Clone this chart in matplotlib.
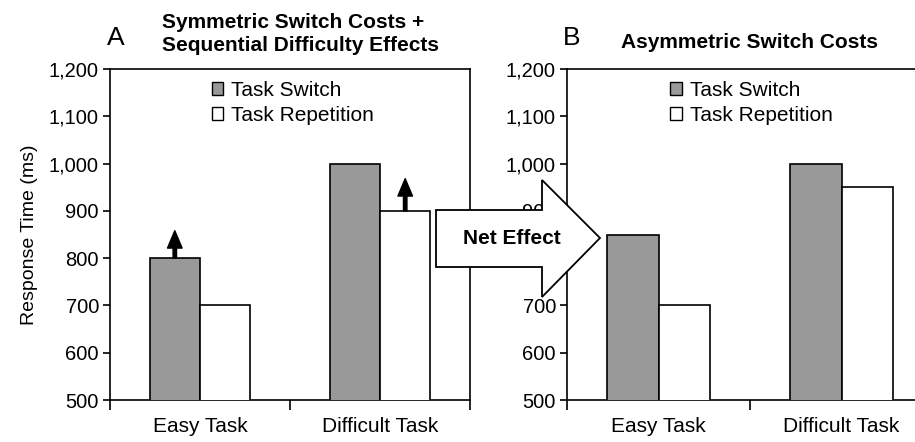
import numpy as np
import matplotlib.pyplot as plt
from matplotlib.patches import Patch, Polygon

plt.rcParams['font.family'] = ['Liberation Sans', 'DejaVu Sans']

# data
categories = ['Easy Task', 'Difficult Task']
switch_a = [800, 1000]
repeat_a = [700, 900]
switch_b = [850, 1000]
repeat_b = [700, 950]
# small arrows in panel A: (category index, series, base, tip)
arrows_a = [(0, 'switch', 800, 858), (1, 'repeat', 900, 968)]
yticks = [500, 600, 700, 800, 900, 1000, 1100, 1200]
ytick_labels = ['500', '600', '700', '800', '900', '1,000', '1,100', '1,200']

W, H = 915, 442
fig = plt.figure(figsize=(W / 100, H / 100), dpi=100)

bar_w = 0.28
gray = '#999999'


def setup(ax, sw, rp):
    x = np.arange(len(categories))
    ax.bar(x - bar_w / 2, sw, bar_w, color=gray, edgecolor='black', linewidth=1.2, zorder=3)
    ax.bar(x + bar_w / 2, rp, bar_w, color='white', edgecolor='black', linewidth=1.2, zorder=3)
    ax.set_ylim(500, 1200)
    ax.set_xlim(-0.5, len(categories) - 0.5)
    ax.set_yticks(yticks)
    ax.set_yticklabels(ytick_labels, fontsize=14.5)
    ax.tick_params(axis='y', direction='out', length=5, width=1.2, pad=3)
    ax.set_xticks(np.arange(len(categories) + 1) - 0.5)
    ax.set_xticklabels([])
    ax.tick_params(axis='x', which='major', direction='out', length=7, width=1.2)
    ax.set_xticks(x, minor=True)
    ax.set_xticklabels(categories, minor=True, fontsize=15)
    ax.tick_params(axis='x', which='minor', length=0, pad=12)
    for s in ax.spines.values():
        s.set_linewidth(1.2)
    handles = [Patch(facecolor=gray, edgecolor='black', label='Task Switch'),
               Patch(facecolor='white', edgecolor='black', label='Task Repetition')]
    ax.legend(handles=handles, loc='upper left', bbox_to_anchor=(0.236, 1.015),
              frameon=False, fontsize=15, handlelength=0.55, handleheight=0.55,
              handletextpad=0.4, labelspacing=0.3, borderpad=0.3)
    return x


axA = fig.add_axes([110 / W, 1 - 400 / H, 360 / W, 331 / H])
xA = setup(axA, switch_a, repeat_a)
axA.set_ylabel('Response Time (ms)', fontsize=14, labelpad=8)
for i, series, base, tip in arrows_a:
    xpos = xA[i] - bar_w / 2 if series == 'switch' else xA[i] + bar_w / 2
    axA.annotate('', xy=(xpos, tip), xytext=(xpos, base),
                 arrowprops=dict(facecolor='black', edgecolor='black', width=2.5,
                                 headwidth=10.5, headlength=12.5, shrink=0), zorder=4)

axB = fig.add_axes([567 / W, 1 - 400 / H, 366 / W, 331 / H])
setup(axB, switch_b, repeat_b)

# panel letters and titles
fig.text(107 / W, 1 - 45 / H, 'A', fontsize=19, va='baseline')
fig.text(162 / W, 1 - 34 / H, 'Symmetric Switch Costs +\nSequential Difficulty Effects',
         fontsize=15, fontweight='bold', ha='left', va='center', linespacing=1.25)
fig.text(563 / W, 1 - 45 / H, 'B', fontsize=19, va='baseline')
fig.text(621 / W, 1 - 42 / H, 'Asymmetric Switch Costs',
         fontsize=15, fontweight='bold', ha='left', va='center')

# "Net Effect" block arrow
pts = [(436, 210), (542, 210), (542, 180), (600, 238), (542, 297), (542, 267), (436, 267)]
poly = Polygon([(px / W, 1 - py / H) for px, py in pts], closed=True,
               facecolor='white', edgecolor='black', linewidth=1.3,
               transform=fig.transFigure, zorder=10)
fig.add_artist(poly)
fig.text(512 / W, 1 - 238 / H, 'Net Effect', fontsize=15, fontweight='bold',
         ha='center', va='center', zorder=11)

fig.savefig('out.png', dpi=100)
